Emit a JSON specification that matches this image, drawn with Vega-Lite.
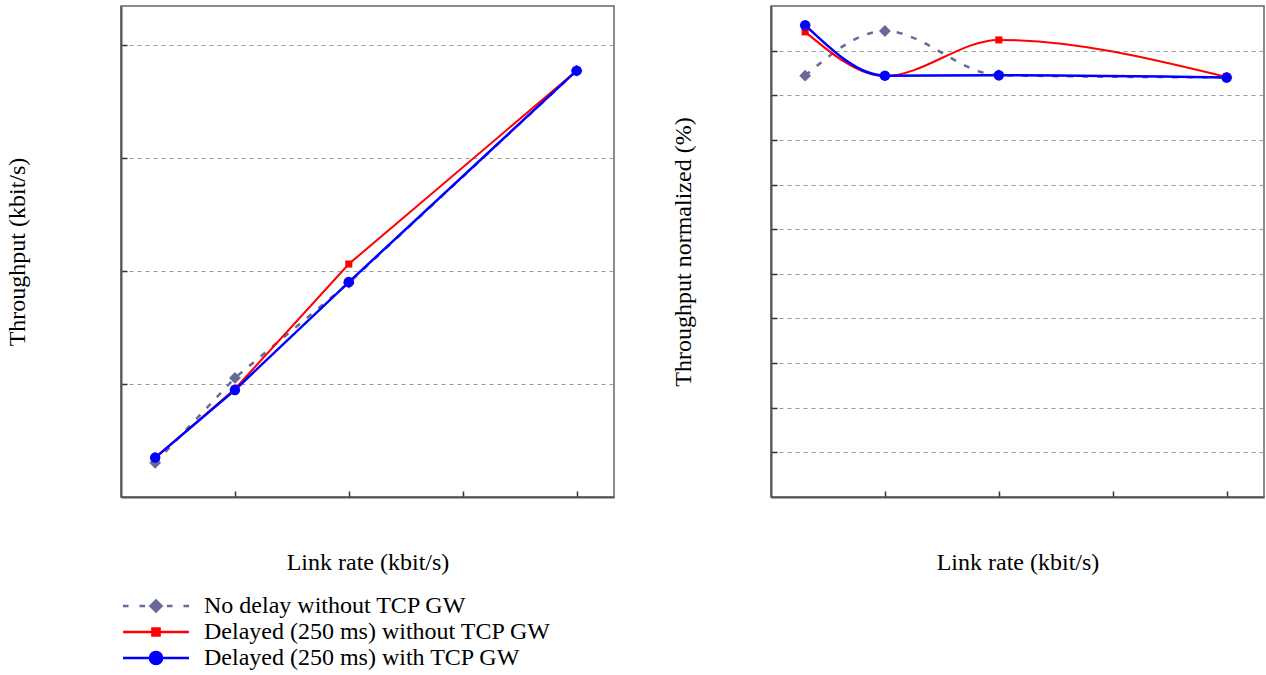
{
  "$schema": "https://vega.github.io/schema/vega-lite/v6.json",
  "padding": {"left": 4, "top": 5, "right": 0, "bottom": 0},
  "background": "white",
  "config": {
    "view": {"stroke": "#666", "strokeWidth": 1.5},
    "font": "Liberation Serif",
    "axis": {
      "labels": false,
      "tickSize": -6,
      "tickColor": "#333",
      "tickWidth": 1.5,
      "domainColor": "#555",
      "domainWidth": 2,
      "gridColor": "#999",
      "gridDash": [4, 4],
      "gridWidth": 1.2,
      "titleFont": "Liberation Serif",
      "titleFontSize": 24,
      "titleFontWeight": "normal",
      "titleColor": "#000"
    },
    "concat": {"spacing": 55}
  },
  "datasets": {
    "abs": [
      {"series": "No delay without TCP GW", "rate": 19.2, "thr": 19.4},
      {"series": "No delay without TCP GW", "rate": 64, "thr": 67.4},
      {"series": "No delay without TCP GW", "rate": 128, "thr": 121.2},
      {"series": "No delay without TCP GW", "rate": 256, "thr": 241.4},
      {"series": "Delayed (250 ms) without TCP GW", "rate": 19.2, "thr": 22.1},
      {"series": "Delayed (250 ms) without TCP GW", "rate": 64, "thr": 61.2},
      {"series": "Delayed (250 ms) without TCP GW", "rate": 128, "thr": 131.9},
      {"series": "Delayed (250 ms) without TCP GW", "rate": 256, "thr": 241.4},
      {"series": "Delayed (250 ms) with TCP GW", "rate": 19.2, "thr": 22.3},
      {"series": "Delayed (250 ms) with TCP GW", "rate": 64, "thr": 60.6},
      {"series": "Delayed (250 ms) with TCP GW", "rate": 128, "thr": 121.7},
      {"series": "Delayed (250 ms) with TCP GW", "rate": 256, "thr": 241.4}
    ],
    "norm": [
      {"series": "No delay without TCP GW", "rate": 19.2, "pct": 94.4},
      {"series": "No delay without TCP GW", "rate": 64, "pct": 104.4},
      {"series": "No delay without TCP GW", "rate": 128, "pct": 94.5},
      {"series": "No delay without TCP GW", "rate": 256, "pct": 94.0},
      {"series": "Delayed (250 ms) without TCP GW", "rate": 19.2, "pct": 104.2},
      {"series": "Delayed (250 ms) without TCP GW", "rate": 64, "pct": 94.3},
      {"series": "Delayed (250 ms) without TCP GW", "rate": 128, "pct": 102.4},
      {"series": "Delayed (250 ms) without TCP GW", "rate": 256, "pct": 94.1},
      {"series": "Delayed (250 ms) with TCP GW", "rate": 19.2, "pct": 105.7},
      {"series": "Delayed (250 ms) with TCP GW", "rate": 64, "pct": 94.4},
      {"series": "Delayed (250 ms) with TCP GW", "rate": 128, "pct": 94.5},
      {"series": "Delayed (250 ms) with TCP GW", "rate": 256, "pct": 94.0}
    ]
  },
  "hconcat": [
    {
      "width": 493,
      "height": 491,
      "data": {"name": "abs"},
      "encoding": {
        "x": {"field": "rate", "type": "quantitative", "scale": {"domain": [0, 277], "nice": false, "zero": false}, "axis": {"title": "Link rate (kbit/s)", "values": [64, 128, 192, 256], "grid": false, "titlePadding": 53}},
        "y": {"field": "thr", "type": "quantitative", "scale": {"domain": [0, 278], "nice": false}, "axis": {"title": "Throughput (kbit/s)", "values": [64, 128, 192, 256], "grid": true, "titlePadding": 91}}
      },
      "layer": [
        {"transform": [{"filter": "datum.series === 'No delay without TCP GW'"}], "mark": {"type": "line", "color": "#68689a", "strokeWidth": 2.5, "strokeDash": [6, 9]}},
        {"transform": [{"filter": "datum.series === 'Delayed (250 ms) without TCP GW'"}], "mark": {"type": "line", "color": "#ff0000", "strokeWidth": 2}},
        {"transform": [{"filter": "datum.series === 'Delayed (250 ms) with TCP GW'"}], "mark": {"type": "line", "color": "#0000ff", "strokeWidth": 2.5}},
        {"transform": [{"filter": "datum.series === 'No delay without TCP GW'"}], "mark": {"type": "point", "shape": "diamond", "filled": true, "opacity": 1, "color": "#68689a", "size": 140}},
        {"transform": [{"filter": "datum.series === 'Delayed (250 ms) without TCP GW'"}], "mark": {"type": "point", "shape": "square", "filled": true, "opacity": 1, "color": "#ff0000", "size": 50}},
        {"transform": [{"filter": "datum.series === 'Delayed (250 ms) with TCP GW'"}], "mark": {"type": "point", "shape": "circle", "filled": true, "opacity": 1, "color": "#0000ff", "size": 110}},
        {
          "transform": [{"filter": "datum.series === 'legend only'"}],
          "mark": {"type": "point", "filled": true, "opacity": 1},
          "encoding": {
            "fill": {
              "field": "series", "type": "nominal",
              "scale": {"domain": ["No delay without TCP GW", "Delayed (250 ms) without TCP GW", "Delayed (250 ms) with TCP GW"], "range": ["#68689a", "#ff0000", "#0000ff"]},
              "legend": {
                "orient": "none", "legendX": 23, "legendY": 588, "title": null,
                "symbolSize": 121, "symbolStrokeWidth": 2.5,
                "labelFont": "Liberation Serif", "labelFontSize": 24, "labelColor": "#000", "labelLimit": 600,
                "labelOffset": 36, "rowPadding": 2
              }
            },
            "stroke": {
              "field": "series", "type": "nominal",
              "scale": {"domain": ["No delay without TCP GW", "Delayed (250 ms) without TCP GW", "Delayed (250 ms) with TCP GW"], "range": ["#68689a", "#ff0000", "#0000ff"]}
            },
            "shape": {
              "field": "series", "type": "nominal",
              "scale": {"domain": ["No delay without TCP GW", "Delayed (250 ms) without TCP GW", "Delayed (250 ms) with TCP GW"], "range": ["M-6,0H-5M-3,0H-2M2,0H3M5,0H6M0,-1L1,0L0,1L-1,0Z", "M-6,0H6M-0.65,-0.65H0.65V0.65H-0.65Z", "M-6,0H6M-1.1,0A1.1,1.1,0,1,0,1.1,0A1.1,1.1,0,1,0,-1.1,0Z"]}
            }
          }
        }
      ]
    },
    {
      "width": 493,
      "height": 491,
      "data": {"name": "norm"},
      "encoding": {
        "x": {"field": "rate", "type": "quantitative", "scale": {"domain": [0, 277], "nice": false, "zero": false}, "axis": {"title": "Link rate (kbit/s)", "values": [64, 128, 192, 256], "grid": false, "titlePadding": 53}},
        "y": {"field": "pct", "type": "quantitative", "scale": {"domain": [0, 110], "nice": false}, "axis": {"title": "Throughput normalized (%)", "values": [10, 20, 30, 40, 50, 60, 70, 80, 90, 100], "grid": true, "titlePadding": 75}}
      },
      "layer": [
        {"transform": [{"filter": "datum.series === 'No delay without TCP GW'"}], "mark": {"type": "line", "interpolate": "monotone", "color": "#68689a", "strokeWidth": 2.5, "strokeDash": [6, 9]}},
        {"transform": [{"filter": "datum.series === 'Delayed (250 ms) without TCP GW'"}], "mark": {"type": "line", "interpolate": "monotone", "color": "#ff0000", "strokeWidth": 2}},
        {"transform": [{"filter": "datum.series === 'Delayed (250 ms) with TCP GW'"}], "mark": {"type": "line", "interpolate": "monotone", "color": "#0000ff", "strokeWidth": 2.5}},
        {"transform": [{"filter": "datum.series === 'No delay without TCP GW'"}], "mark": {"type": "point", "shape": "diamond", "filled": true, "opacity": 1, "color": "#68689a", "size": 140}},
        {"transform": [{"filter": "datum.series === 'Delayed (250 ms) without TCP GW'"}], "mark": {"type": "point", "shape": "square", "filled": true, "opacity": 1, "color": "#ff0000", "size": 50}},
        {"transform": [{"filter": "datum.series === 'Delayed (250 ms) with TCP GW'"}], "mark": {"type": "point", "shape": "circle", "filled": true, "opacity": 1, "color": "#0000ff", "size": 110}}
      ]
    }
  ]
}
